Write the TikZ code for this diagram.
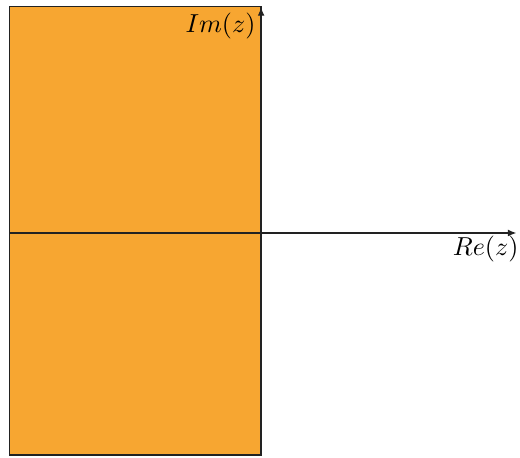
\documentclass[tikz,border=0pt]{standalone}
\definecolor{regionFill}{HTML}{F7A631}
\definecolor{axisLine}{HTML}{222222}
\usepackage{tikz}
\usetikzlibrary{positioning, arrows.meta}

\begin{document}
\begin{tikzpicture}[
    axis/.style={draw=axisLine, line width=0.4pt, -{Latex[length=3.2pt,width=2.6pt]}},
    region/.style={fill=regionFill, draw=axisLine, line width=0.5pt}
  ]
  \useasboundingbox (-3.53,-3.03) rectangle (3.50,3.15);
  % left half-plane
  \draw[region] (-3.40,-3.00) rectangle (0,3.06);
  % axes
  \coordinate (origin) at (0,0);
  \coordinate (reLeft) at (-3.40,0);
  \coordinate (reEnd) at (3.45,0);
  \coordinate (imLow) at (0,-3.00);
  \coordinate (imEnd) at (0,3.05);
  \draw[axis] (reLeft) -- (reEnd);
  \draw[axis] (imLow) -- (imEnd);
  \node[below left=0pt and -2pt of reEnd, inner sep=1pt] (reLabel) {$Re(z)$};
  \node[below left=1pt and 1pt of imEnd, inner sep=1pt] (imLabel) {$Im(z)$};
\end{tikzpicture}
\end{document}
